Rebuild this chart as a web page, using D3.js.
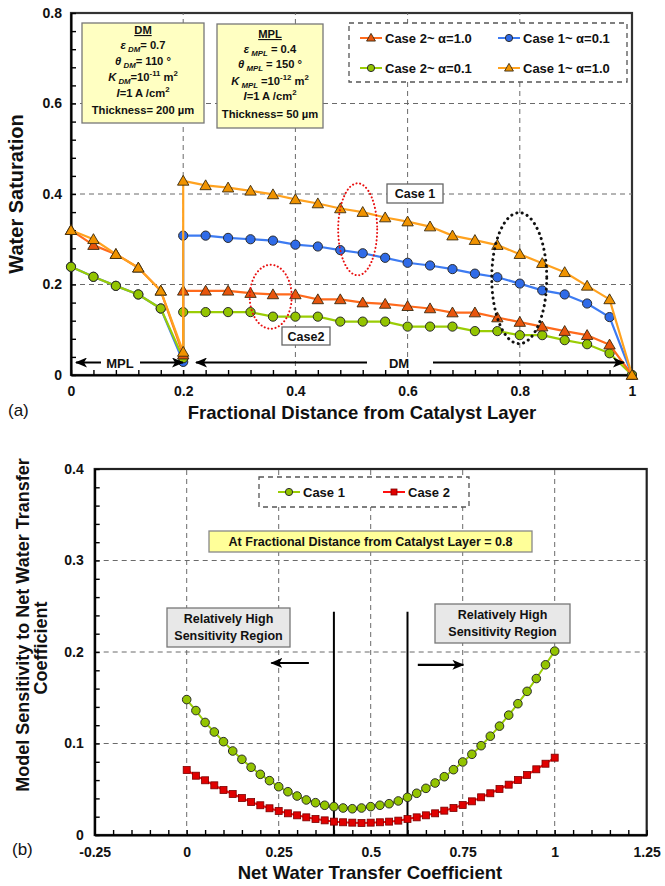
<!DOCTYPE html>
<html>
<head>
<meta charset="utf-8">
<script src="https://cdn.jsdelivr.net/npm/d3@7"></script>
<style>
  body { margin: 0; background: #fff; }
  text { font-family: "Liberation Sans", Arial, sans-serif; font-weight: bold; fill: #111; }
</style>
</head>
<body>
<svg id="chart" width="665" height="886"></svg>
<script>
// ---------- (a) water saturation profiles ----------
const xMPL = [0, 0.04, 0.08, 0.12, 0.16, 0.2];
const xDM = [0.2, 0.24, 0.28, 0.32, 0.36, 0.4, 0.44, 0.48, 0.52, 0.56, 0.6,
             0.64, 0.68, 0.72, 0.76, 0.8, 0.84, 0.88, 0.92, 0.96, 1.0];

const case1a10MPL = [0.32, 0.30, 0.267, 0.237, 0.186, 0.051];
const case1a10DM = [0.429, 0.419, 0.414, 0.407, 0.399, 0.388, 0.379, 0.368, 0.36, 0.348, 0.339,
                    0.328, 0.308, 0.298, 0.287, 0.267, 0.247, 0.227, 0.197, 0.167, 0];
const case1a01MPL = [0.239, 0.217, 0.197, 0.178, 0.147, 0.029];
const case1a01DM = [0.308, 0.308, 0.303, 0.30, 0.297, 0.288, 0.284, 0.276, 0.269, 0.259, 0.248,
                    0.242, 0.234, 0.224, 0.216, 0.202, 0.187, 0.178, 0.158, 0.128, 0];
const case2a10MPL = [0.32, 0.287, 0.267, 0.237, 0.186, 0.045];
const case2a10DM = [0.186, 0.186, 0.186, 0.181, 0.178, 0.178, 0.167, 0.167, 0.16, 0.157, 0.152,
                    0.147, 0.138, 0.138, 0.127, 0.117, 0.107, 0.097, 0.088, 0.067, 0];
const case2a01MPL = [0.239, 0.217, 0.197, 0.178, 0.147, 0.037];
const case2a01DM = [0.139, 0.139, 0.139, 0.139, 0.129, 0.129, 0.129, 0.118, 0.118, 0.118, 0.107,
                    0.107, 0.107, 0.097, 0.097, 0.088, 0.088, 0.077, 0.068, 0.048, 0];

const xTicksA = [0, 0.04, 0.08, 0.12, 0.16, 0.2, 0.24, 0.28, 0.32, 0.36, 0.4, 0.44, 0.48,
                 0.52, 0.56, 0.6, 0.64, 0.68, 0.72, 0.76, 0.8, 0.84, 0.88, 0.92, 0.96, 1];
const xMajorA = [0, 0.2, 0.4, 0.6, 0.8, 1];
const xMajorLabelsA = ["0", "0.2", "0.4", "0.6", "0.8", "1"];
const yTicksA = [0, 0.04, 0.08, 0.12, 0.16, 0.2, 0.24, 0.28, 0.32, 0.36, 0.4, 0.44, 0.48,
                 0.52, 0.56, 0.6, 0.64, 0.68, 0.72, 0.76, 0.8];
const yMajorA = [0, 0.2, 0.4, 0.6, 0.8];
const yMajorLabelsA = ["0", "0.2", "0.4", "0.6", "0.8"];
const xGridA = [0.2, 0.4, 0.6, 0.8];
const yGridA = [0.2, 0.4, 0.6];

// ---------- (b) sensitivity to net water transfer coefficient ----------
const xCoef = [0, 0.025, 0.05, 0.075, 0.1, 0.125, 0.15, 0.175, 0.2, 0.225, 0.25, 0.275, 0.3,
               0.325, 0.35, 0.375, 0.4, 0.425, 0.45, 0.475, 0.5, 0.525, 0.55, 0.575, 0.6,
               0.625, 0.65, 0.675, 0.7, 0.725, 0.75, 0.775, 0.8, 0.825, 0.85, 0.875, 0.9,
               0.925, 0.95, 0.975, 1.0];
const sensCase1 = [0.148, 0.136, 0.123, 0.1126, 0.102, 0.0918, 0.0827, 0.074, 0.0663, 0.0594,
                   0.0528, 0.0473, 0.0426, 0.0383, 0.0353, 0.0325, 0.031, 0.0295, 0.0287, 0.0295,
                   0.031, 0.0325, 0.0342, 0.0372, 0.0412, 0.0456, 0.051, 0.0568, 0.0637, 0.0714,
                   0.0798, 0.0882, 0.0976, 0.108, 0.119, 0.131, 0.1435, 0.157, 0.171, 0.186, 0.201];
const sensCase2 = [0.071, 0.0648, 0.0598, 0.0543, 0.0492, 0.0448, 0.0404, 0.036, 0.0325, 0.0292,
                   0.0262, 0.0237, 0.0215, 0.0193, 0.0175, 0.016, 0.0146, 0.0139, 0.0135, 0.0131,
                   0.0135, 0.0139, 0.0146, 0.0157, 0.0175, 0.0193, 0.0215, 0.0237, 0.0266, 0.0295,
                   0.0328, 0.0368, 0.0412, 0.0456, 0.0503, 0.055, 0.0601, 0.0656, 0.0718, 0.0779, 0.0845];

const xTicksB = [-0.25, -0.2, -0.15, -0.1, -0.05, 0, 0.05, 0.1, 0.15, 0.2, 0.25, 0.3, 0.35, 0.4,
                 0.45, 0.5, 0.55, 0.6, 0.65, 0.7, 0.75, 0.8, 0.85, 0.9, 0.95, 1, 1.05, 1.1,
                 1.15, 1.2, 1.25];
const xMajorB = [-0.25, 0, 0.25, 0.5, 0.75, 1, 1.25];
const xMajorLabelsB = ["-0.25", "0", "0.25", "0.5", "0.75", "1", "1.25"];
const yTicksB = [0, 0.02, 0.04, 0.06, 0.08, 0.1, 0.12, 0.14, 0.16, 0.18, 0.2, 0.22, 0.24,
                 0.26, 0.28, 0.3, 0.32, 0.34, 0.36, 0.38, 0.4];
const yMajorB = [0, 0.1, 0.2, 0.3, 0.4];
const yMajorLabelsB = ["0", "0.1", "0.2", "0.3", "0.4"];
const xGridB = [0, 0.25, 0.5, 0.75, 1];
const yGridB = [0.1, 0.2, 0.3];
const regionBounds = [0.4, 0.6];

// ---------- styles ----------
const C = {
  c1a10: { line: "#FFA21F", fill: "#F09300" },
  c1a01: { line: "#3D7BF2", fill: "#2F6BE8" },
  c2a10: { line: "#FF6A1C", fill: "#E8550C" },
  c2a01: { line: "#9ACD05", fill: "#93C400" },
  b1: { line: "#9ACD05", fill: "#93C400" },
  b2: { line: "#FF1010", fill: "#E00000" }
};

const svg = d3.select("#chart");
const defs = svg.append("defs");
defs.append("marker").attr("id", "head").attr("viewBox", "0 0 12 10")
  .attr("refX", 11).attr("refY", 5).attr("markerWidth", 12).attr("markerHeight", 10)
  .attr("markerUnits", "userSpaceOnUse").attr("orient", "auto")
  .append("path").attr("d", "M0,0 L12,5 L0,10 L3,5 Z").attr("fill", "#000");

function labelFormat(majors, labels) {
  return d => {
    const i = majors.findIndex(v => Math.abs(v - d) < 1e-9);
    return i >= 0 ? labels[i] : "";
  };
}
function styleAxis(g) {
  g.select(".domain").attr("stroke", "#000").attr("stroke-width", 2);
  g.selectAll(".tick line").attr("stroke", "#000").attr("stroke-width", 1.4);
  g.selectAll(".tick text").attr("font-size", 14).attr("fill", "#111")
    .style("font-family", '"Liberation Sans", Arial, sans-serif').style("font-weight", "bold");
}
function richText(parent, x, y, segs, size, anchor) {
  const t = parent.append("text").attr("x", x).attr("y", y)
    .attr("font-size", size).attr("text-anchor", anchor || "middle");
  let shift = 0;
  segs.forEach(s => {
    const o = typeof s === "string" ? { t: s } : s;
    const want = o.sub ? 3 : o.sup ? -5 : 0;
    const sp = t.append("tspan").text(o.t).attr("dy", want - shift);
    shift = want;
    if (o.sub || o.sup) sp.attr("font-size", size * 0.7);
    if (o.it) sp.attr("font-style", "italic");
    if (o.u) sp.attr("text-decoration", "underline");
  });
  return t;
}
function box(parent, x0, y0, x1, y1, fill, stroke, dash) {
  return parent.append("rect").attr("x", x0).attr("y", y0)
    .attr("width", x1 - x0).attr("height", y1 - y0)
    .attr("fill", fill).attr("stroke", stroke).attr("stroke-width", 1.3)
    .attr("stroke-dasharray", dash || null);
}
function drawMarker(g, type, cx, cy, col, size) {
  if (type === "tri") {
    g.append("path").attr("d", d3.symbol(d3.symbolTriangle, size || 56)())
      .attr("transform", `translate(${cx},${cy})`)
      .attr("fill", col.fill).attr("stroke", "#3a2a10").attr("stroke-width", 0.9);
  } else if (type === "sq") {
    const s = size || 7;
    g.append("rect").attr("x", cx - s / 2).attr("y", cy - s / 2).attr("width", s).attr("height", s)
      .attr("fill", col.fill).attr("stroke", "#7a0000").attr("stroke-width", 0.8);
  } else {
    g.append("circle").attr("cx", cx).attr("cy", cy).attr("r", size || 4.6)
      .attr("fill", col.fill).attr("stroke", "#2b2b2b").attr("stroke-width", 1);
  }
}

// ================= panel (a) =================
const xA = d3.scaleLinear().domain([0, 1]).range([71, 632]);
const yA = d3.scaleLinear().domain([0, 0.8]).range([375, 13]);
const pa = svg.append("g");

pa.append("rect").attr("x", xA(0)).attr("y", yA(0.8))
  .attr("width", xA(1) - xA(0)).attr("height", yA(0) - yA(0.8))
  .attr("fill", "none").attr("stroke", "#333").attr("stroke-width", 2.2);

const gridA = pa.append("g").attr("stroke", "#6a6a6a").attr("stroke-width", 1).attr("stroke-dasharray", "5,4");
xGridA.forEach(v => gridA.append("line").attr("x1", xA(v)).attr("x2", xA(v)).attr("y1", yA(0)).attr("y2", yA(0.8)));
yGridA.forEach(v => gridA.append("line").attr("x1", xA(0)).attr("x2", xA(1)).attr("y1", yA(v)).attr("y2", yA(v)));

pa.append("g").attr("transform", `translate(0,${yA(0)})`)
  .call(d3.axisBottom(xA).tickValues(xTicksA).tickSize(-5).tickSizeOuter(0).tickPadding(11)
    .tickFormat(labelFormat(xMajorA, xMajorLabelsA))).call(styleAxis);
pa.append("g").attr("transform", `translate(${xA(0)},0)`)
  .call(d3.axisLeft(yA).tickValues(yTicksA).tickSize(-5).tickSizeOuter(0).tickPadding(9)
    .tickFormat(labelFormat(yMajorA, yMajorLabelsA))).call(styleAxis);

// parameter boxes
const dmBox = pa.append("g");
box(dmBox, 82, 23, 204, 123, "#FFFFC2", "#777");
[
  [{ t: "DM", u: true }],
  [{ t: "ε", it: true }, { t: " DM", it: true, sub: true }, "= 0.7"],
  [{ t: "θ", it: true }, { t: " DM", it: true, sub: true }, "= 110 °"],
  [{ t: "K", it: true }, { t: " DM", it: true, sub: true }, "=10", { t: "-11", sup: true }, " m", { t: "2", sup: true }],
  [{ t: "I", it: true }, "=1 A /cm", { t: "2", sup: true }],
  ["Thickness= 200 µm"]
].forEach((segs, i) => richText(dmBox, 143, [34, 49, 65, 81, 97, 114][i], segs, 11.2));

const mplBox = pa.append("g");
box(mplBox, 217, 24, 323, 128, "#FFFFC2", "#777");
[
  [{ t: "MPL", u: true }],
  [{ t: "ε", it: true }, { t: " MPL", it: true, sub: true }, " = 0.4"],
  [{ t: "θ", it: true }, { t: " MPL", it: true, sub: true }, " = 150 °"],
  [{ t: "K", it: true }, { t: " MPL", it: true, sub: true }, " =10", { t: "-12", sup: true }, " m", { t: "2", sup: true }],
  [{ t: "I", it: true }, "=1 A /cm", { t: "2", sup: true }],
  ["Thickness= 50 µm"]
].forEach((segs, i) => richText(mplBox, 270, [38, 53, 68, 85, 100, 118][i], segs, 11.2));

// legend
const legA = pa.append("g");
box(legA, 349, 23, 627, 82, "#fff", "#555", "5,4");
[
  { label: "Case 2~ α=1.0", col: C.c2a10, m: "tri", x: 360, y: 38 },
  { label: "Case 1~ α=0.1", col: C.c1a01, m: "circ", x: 498, y: 38 },
  { label: "Case 2~ α=0.1", col: C.c2a01, m: "circ", x: 360, y: 68 },
  { label: "Case 1~ α=1.0", col: C.c1a10, m: "tri", x: 498, y: 68 }
].forEach(d => {
  legA.append("line").attr("x1", d.x).attr("x2", d.x + 22).attr("y1", d.y).attr("y2", d.y)
    .attr("stroke", d.col.line).attr("stroke-width", 2);
  drawMarker(legA, d.m, d.x + 11, d.y + (d.m === "tri" ? 0.5 : 0), d.col, d.m === "tri" ? 34 : 3.6);
  legA.append("text").attr("x", d.x + 25).attr("y", d.y + 4.5).attr("font-size", 13).text(d.label);
});

// saturation series
const lineA = d3.line().x(d => xA(d[0])).y(d => yA(d[1]));
const seriesA = [
  { key: "c1a01", mpl: case1a01MPL, dm: case1a01DM, m: "circ" },
  { key: "c2a01", mpl: case2a01MPL, dm: case2a01DM, m: "circ" },
  { key: "c2a10", mpl: case2a10MPL, dm: case2a10DM, m: "tri" },
  { key: "c1a10", mpl: case1a10MPL, dm: case1a10DM, m: "tri" }
];
seriesA.forEach(s => {
  const pts = xMPL.map((x, i) => [x, s.mpl[i]]).concat(xDM.map((x, i) => [x, s.dm[i]]));
  const col = C[s.key];
  const g = pa.append("g");
  g.append("path").attr("d", lineA(pts)).attr("fill", "none")
    .attr("stroke", col.line).attr("stroke-width", 2.2).attr("stroke-linejoin", "round");
  pts.forEach(p => drawMarker(g, s.m, xA(p[0]), yA(p[1]) + (s.m === "tri" ? 1 : 0), col));
});

// highlight ellipses
pa.append("ellipse").attr("cx", xA(0.511)).attr("cy", yA(0.322)).attr("rx", 19.5).attr("ry", 46)
  .attr("fill", "none").attr("stroke", "#E81010").attr("stroke-width", 2)
  .attr("stroke-dasharray", "0.1,3.6").attr("stroke-linecap", "round");
pa.append("ellipse").attr("cx", xA(0.356)).attr("cy", yA(0.173)).attr("rx", 21).attr("ry", 32)
  .attr("fill", "none").attr("stroke", "#E81010").attr("stroke-width", 2)
  .attr("stroke-dasharray", "0.1,3.6").attr("stroke-linecap", "round");
pa.append("ellipse").attr("cx", xA(0.799)).attr("cy", yA(0.214)).attr("rx", 27.5).attr("ry", 65.5)
  .attr("fill", "none").attr("stroke", "#111").attr("stroke-width", 3)
  .attr("stroke-dasharray", "0.1,5.4").attr("stroke-linecap", "round");

// case labels
box(pa, 387, 184, 443, 203, "#fff", "#666");
pa.append("text").attr("x", 415).attr("y", 198).attr("font-size", 12.5).attr("text-anchor", "middle").text("Case 1");
box(pa, 282, 327, 330, 345, "#fff", "#666");
pa.append("text").attr("x", 306).attr("y", 340.5).attr("font-size", 12.5).attr("text-anchor", "middle").text("Case2");

// layer extent arrows
const ay = 362.5;
function arrow(g, x1, y1, x2, y2, w) {
  g.append("line").attr("x1", x1).attr("y1", y1).attr("x2", x2).attr("y2", y2)
    .attr("stroke", "#000").attr("stroke-width", w || 2).attr("marker-end", "url(#head)");
}
arrow(pa, 101, ay, 76, ay);
arrow(pa, 140, ay, 183, ay);
pa.append("text").attr("x", 120).attr("y", ay + 5).attr("font-size", 13).attr("text-anchor", "middle").text("MPL");
arrow(pa, 367, ay, 196, ay);
arrow(pa, 433, ay, 624, ay);
pa.append("text").attr("x", 399).attr("y", ay + 5).attr("font-size", 13).attr("text-anchor", "middle").text("DM");

// titles
pa.append("text").attr("transform", `translate(23,${(yA(0) + yA(0.8)) / 2}) rotate(-90)`)
  .attr("font-size", 20).attr("text-anchor", "middle").text("Water Saturation");
pa.append("text").attr("x", 362).attr("y", 419).attr("font-size", 18.5).attr("text-anchor", "middle")
  .text("Fractional Distance from Catalyst Layer");
pa.append("text").attr("x", 8).attr("y", 416).attr("font-size", 17).style("font-weight", "normal").text("(a)");

// ================= panel (b) =================
const xB = d3.scaleLinear().domain([-0.25, 1.25]).range([94.7, 646.7]);
const yB = d3.scaleLinear().domain([0, 0.4]).range([835, 469]);
const pb = svg.append("g");

pb.append("rect").attr("x", xB(-0.25)).attr("y", yB(0.4))
  .attr("width", xB(1.25) - xB(-0.25)).attr("height", yB(0) - yB(0.4))
  .attr("fill", "none").attr("stroke", "#222").attr("stroke-width", 2.2);

const gridB = pb.append("g").attr("stroke", "#6a6a6a").attr("stroke-width", 1).attr("stroke-dasharray", "5,4");
xGridB.forEach(v => gridB.append("line").attr("x1", xB(v)).attr("x2", xB(v)).attr("y1", yB(0)).attr("y2", yB(0.4)));
yGridB.forEach(v => gridB.append("line").attr("x1", xB(-0.25)).attr("x2", xB(1.25)).attr("y1", yB(v)).attr("y2", yB(v)));

pb.append("g").attr("transform", `translate(0,${yB(0)})`)
  .call(d3.axisBottom(xB).tickValues(xTicksB).tickSize(-5).tickSizeOuter(0).tickPadding(12)
    .tickFormat(labelFormat(xMajorB, xMajorLabelsB))).call(styleAxis);
pb.append("g").attr("transform", `translate(${xB(-0.25)},0)`)
  .call(d3.axisLeft(yB).tickValues(yTicksB).tickSize(-5).tickSizeOuter(0).tickPadding(11)
    .tickFormat(labelFormat(yMajorB, yMajorLabelsB))).call(styleAxis);

// legend
const legB = pb.append("g");
box(legB, 259, 477, 469, 507, "#fff", "#555", "5,4");
[
  { label: "Case 1", col: C.b1, m: "circ", x: 278 },
  { label: "Case 2", col: C.b2, m: "sq", x: 383 }
].forEach(d => {
  legB.append("line").attr("x1", d.x).attr("x2", d.x + 22).attr("y1", 492).attr("y2", 492)
    .attr("stroke", d.col.line).attr("stroke-width", 2);
  drawMarker(legB, d.m, d.x + 11, 492, d.col, d.m === "sq" ? 6 : 3.6);
  legB.append("text").attr("x", d.x + 25).attr("y", 497).attr("font-size", 13).text(d.label);
});

// location note
box(pb, 209, 531, 532, 552, "#FFFF99", "#888");
pb.append("text").attr("x", 370.5).attr("y", 546).attr("font-size", 12.5).attr("text-anchor", "middle")
  .text("At Fractional Distance from Catalyst Layer = 0.8");

// sensitivity region markers
regionBounds.forEach(v => pb.append("line").attr("x1", xB(v)).attr("x2", xB(v))
  .attr("y1", yB(0.244)).attr("y2", yB(0)).attr("stroke", "#000").attr("stroke-width", 2));
arrow(pb, xB(0.332), yB(0.188), xB(0.23), yB(0.188), 2.2);
arrow(pb, xB(0.628), yB(0.186), xB(0.752), yB(0.186), 2.2);

[[167, 608, 290, 647], [435, 604, 570, 643]].forEach(b => {
  box(pb, b[0], b[1], b[2], b[3], "#E8E8E8", "#777");
  const cx = (b[0] + b[2]) / 2;
  pb.append("text").attr("x", cx).attr("y", b[1] + 15).attr("font-size", 12.5).attr("text-anchor", "middle").text("Relatively High");
  pb.append("text").attr("x", cx).attr("y", b[1] + 32).attr("font-size", 12.5).attr("text-anchor", "middle").text("Sensitivity Region");
});

// sensitivity series
const lineB = d3.line().x(d => xB(d[0])).y(d => yB(d[1]));
[
  { vals: sensCase2, col: C.b2, m: "sq" },
  { vals: sensCase1, col: C.b1, m: "circ" }
].forEach(s => {
  const pts = xCoef.map((x, i) => [x, s.vals[i]]);
  const g = pb.append("g");
  g.append("path").attr("d", lineB(pts)).attr("fill", "none")
    .attr("stroke", s.col.line).attr("stroke-width", 2);
  pts.forEach(p => drawMarker(g, s.m, xB(p[0]), yB(p[1]), s.col, s.m === "sq" ? 7 : 4.3));
});

// titles
pb.append("text").attr("transform", `translate(29,625) rotate(-90)`)
  .attr("font-size", 18).attr("text-anchor", "middle").text("Model Sensitivity to Net Water Transfer");
pb.append("text").attr("transform", `translate(47,648) rotate(-90)`)
  .attr("font-size", 18).attr("text-anchor", "middle").text("Coefficient");
pb.append("text").attr("x", 370).attr("y", 879).attr("font-size", 18.5).attr("text-anchor", "middle")
  .text("Net Water Transfer Coefficient");
pb.append("text").attr("x", 12).attr("y", 855).attr("font-size", 17).style("font-weight", "normal").text("(b)");
</script>
</body>
</html>
